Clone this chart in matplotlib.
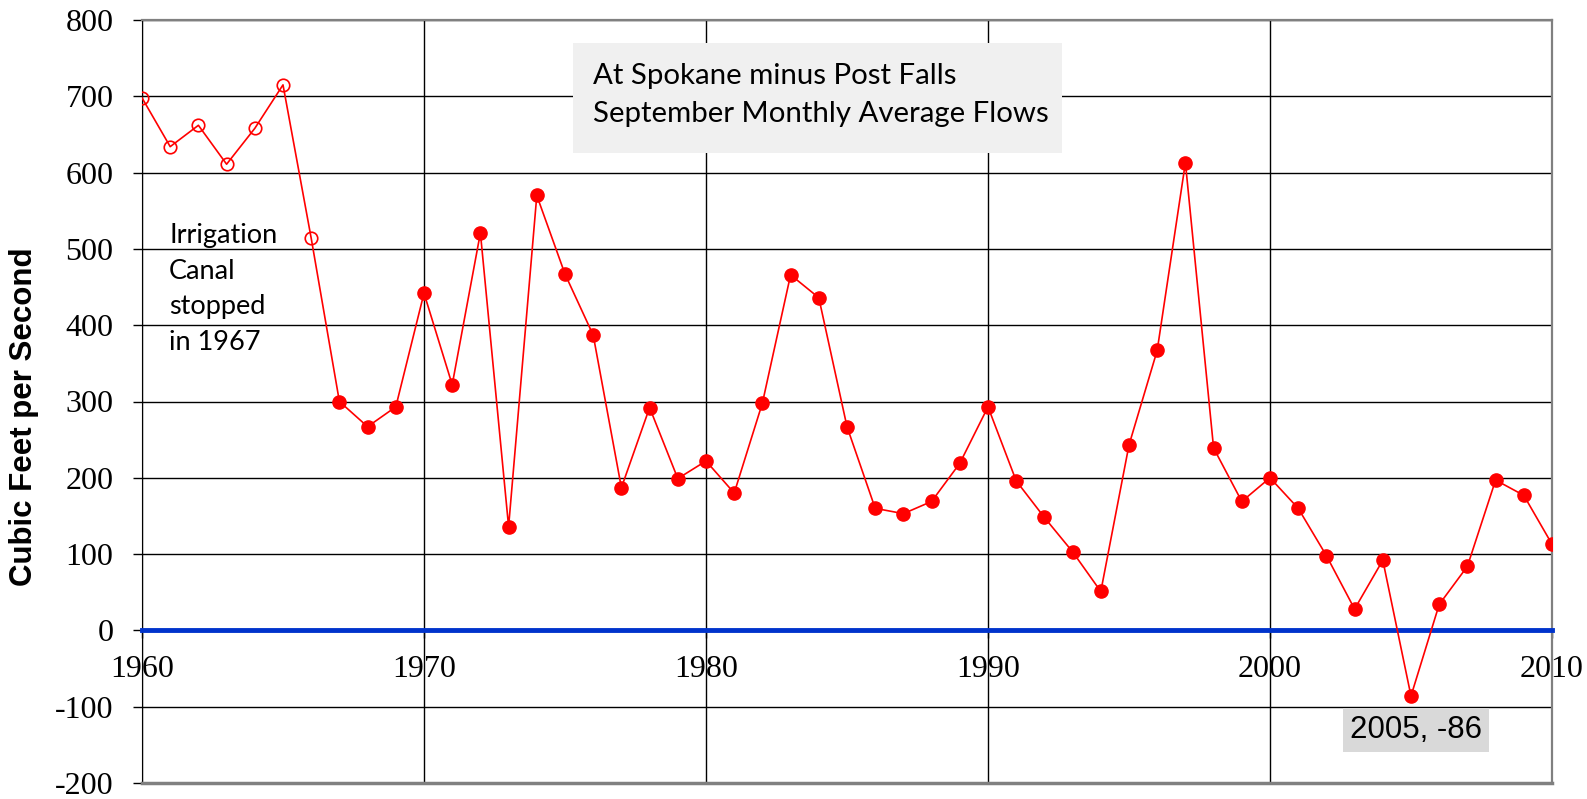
import numpy as np
import matplotlib.pyplot as plt

plt.rcParams['axes.unicode_minus'] = False

years = list(range(1960, 2012))
flows = [698, 634, 662, 611, 658, 715, 514, 300, 267, 293,
         442, 322, 521, 136, 570, 467, 387, 187, 292, 199,
         222, 180, 298, 466, 436, 267, 160, 153, 169, 219,
         293, 196, 148, 103, 51, 243, 367, 613, 239, 169,
         200, 160, 98, 28, 92, -86, 34, 84, 197, 177,
         113, 440]
canal_year = 1967

x_ticks = [1960, 1970, 1980, 1990, 2000, 2010]
y_ticks = [-200, -100, 0, 100, 200, 300, 400, 500, 600, 700, 800]

title_lines = ["At Spokane minus Post Falls", "September Monthly Average Flows"]
note_lines = ["Irrigation", "Canal", "stopped", "in 1967"]
low_year, low_val = 2005, -86

yrs = np.array(years)
vals = np.array(flows)
before = yrs < canal_year

fig = plt.figure(figsize=(15.87, 7.99), dpi=100)
ax = fig.add_axes([142/1587, 1 - 783/799, 1410/1587, 763/799])

# x axis sits at zero, drawn as the thick blue line
ax.spines['bottom'].set_position(('data', 0))
ax.spines['bottom'].set_color('#0033CC')
ax.spines['bottom'].set_linewidth(3.5)
ax.spines['bottom'].set_zorder(2.5)
ax.spines['left'].set_color('black')
for s in ['top', 'right']:
    ax.spines[s].set_color('#808080')
    ax.spines[s].set_linewidth(1.6)

ax.plot(yrs, vals, color='red', lw=1.2, zorder=3)
ax.plot(yrs[before], vals[before], 'o', ms=9, mfc='none', mec='red', mew=1.2, zorder=4)
ax.plot(yrs[~before], vals[~before], 'o', ms=9.5, color='red', zorder=4)
ax.axhline(-200, color='#808080', lw=2.5, clip_on=False, zorder=5)

ax.set_xlim(1960, 2010)
ax.set_ylim(-200, 800)
ax.set_xticks(x_ticks)
ax.set_xticklabels([str(v) for v in x_ticks])
ax.set_yticks(y_ticks)
ax.set_yticklabels([str(v) for v in y_ticks])
for lab in ax.get_xticklabels() + ax.get_yticklabels():
    lab.set_family('Liberation Serif')
    lab.set_fontsize(23)
ax.grid(True, color='black', lw=1.0, zorder=1)
ax.set_axisbelow(True)

ax.tick_params(axis='y', direction='out', length=6.5, width=1, pad=14, color='black')
ax.tick_params(axis='x', direction='out', length=6, width=1, pad=12, color='black')

ax.set_ylabel("Cubic Feet per Second", family='Liberation Sans', fontsize=22.5, fontweight='bold')
ax.yaxis.label.set_va('center')
ax.yaxis.set_label_coords((24 - 142) / 1410, (783 - 417) / 763)

# title box
ax.add_patch(plt.Rectangle((0.3057, 0.8257), 0.3468, 0.1442, transform=ax.transAxes,
                           facecolor='#F0F0F0', edgecolor='none', zorder=2))
for i, line in enumerate(title_lines):
    ax.text(0.3199, 0.9161 - i * 0.0498, line, transform=ax.transAxes,
            family='Lato', fontsize=21.2, va='baseline', ha='left', zorder=3)

for i, line in enumerate(note_lines):
    ax.text((169 - 142) / 1410, (783 - 243) / 763 - i * 0.0468, line, transform=ax.transAxes,
            family='Lato', fontsize=19.5, va='baseline', ha='left', zorder=3)

ax.annotate(f"{low_year}, {low_val}", xy=(low_year, low_val), xytext=(3.5, -24.5),
            textcoords='offset points', ha='center', va='center',
            family='Liberation Sans', fontsize=22.5, zorder=6,
            bbox=dict(boxstyle='square,pad=0.22', facecolor='#D9D9D9', edgecolor='none'))

fig.savefig('out.png', dpi=100)
